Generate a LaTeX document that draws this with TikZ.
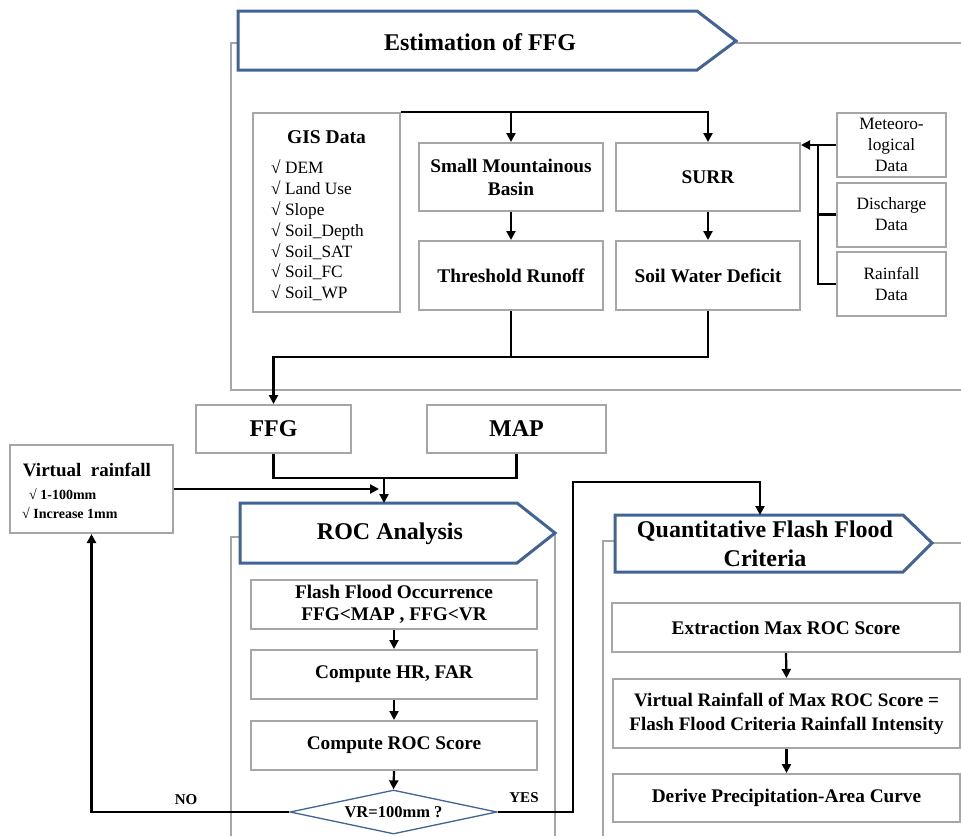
\documentclass[tikz,border=0pt]{standalone}
\usepackage{fontspec}
\setmainfont{Liberation Serif}
\usetikzlibrary{arrows.meta,shapes.geometric}
\definecolor{boxgray}{RGB}{166,166,166}
\definecolor{bannerblue}{RGB}{65,100,148}
\begin{document}
\begin{tikzpicture}[x=1pt,y=-1pt,
    box/.style={draw=boxgray,line width=2pt,fill=white,inner sep=0pt,align=center,
      font=\bfseries\fontsize{19.3}{23}\selectfont},
    databox/.style={draw=boxgray,line width=2pt,fill=white,inner sep=0pt,align=center,
      minimum width=109pt,minimum height=64pt,font=\fontsize{17.3}{21}\selectfont},
    frame/.style={draw=boxgray,line width=2pt},
    banner/.style={draw=bannerblue,line width=3pt,fill=white,line join=miter},
    bannertext/.style={inner sep=0pt,align=center,font=\bfseries\fontsize{24}{29}\selectfont},
    conn/.style={draw=black,line width=2.2pt},
    connarrow/.style={conn,-{Triangle[length=9pt,width=9pt]}},
    yesno/.style={inner sep=0pt,font=\bfseries\fontsize{15}{17}\selectfont}]
  \useasboundingbox[fill=white] (0,0) rectangle (961,836);

  \draw [frame] (238,43) -- (231,43) -- (231,390) -- (961,390);
  \draw [frame] (736,43) -- (961,43);
  \draw [frame] (240,537) -- (231,537) -- (231,836);
  \draw [frame] (555,533) -- (555,836);
  \draw [frame] (615,541) -- (603,541) -- (603,836);
  \draw [frame] (932,543) -- (961,543);

  \draw [banner] (238,11) -- (697,11) -- (736,41) -- (697,70) -- (238,70) -- cycle;
  \node [bannertext] (est) at (480,42) {Estimation of FFG};
  \draw [banner] (240,503) -- (517,503) -- (555,533) -- (517,563) -- (240,563) -- cycle;
  \node [bannertext] (roc) at (390,534) {ROC Analysis};
  \draw [banner] (615,515) -- (903,515) -- (932,543) -- (903,572) -- (615,572) -- cycle;
  \node [bannertext] (qffc) at (765,544) {Quantitative Flash Flood\\Criteria};

  \node [box,minimum width=147pt,minimum height=199pt] (gis) at (326.5,212.5) {};
  \node [inner sep=0pt,font=\bfseries\fontsize{19.5}{22}\selectfont] (gistitle) at (326.5,137) {GIS Data};
  \node [anchor=north west,inner sep=0pt,align=left,font=\fontsize{17.3}{20.8}\selectfont] (gislist) at (271,160)
    {√ DEM\\√ Land Use\\√ Slope\\√ Soil\_Depth\\√ Soil\_SAT\\√ Soil\_FC\\√ Soil\_WP};
  \node [box,minimum width=184pt,minimum height=68pt] (smb) at (511,177) {Small Mountainous\\Basin};
  \node [box,minimum width=184pt,minimum height=69pt] (thr) at (511,275.5) {Threshold Runoff};
  \node [box,minimum width=184pt,minimum height=68pt] (surr) at (708,177) {SURR};
  \node [box,minimum width=184pt,minimum height=69pt] (swd) at (708,275.5) {Soil Water Deficit};
  \node [databox] (meteo) at (891.5,145) {Meteoro-\\logical\\Data};
  \node [databox] (disc) at (891.5,214.5) {Discharge\\Data};
  \node [databox] (rain) at (891.5,284) {Rainfall\\Data};

  \node [box,minimum width=155pt,minimum height=48pt,font=\bfseries\fontsize{24}{28}\selectfont] (ffg) at (273.5,429) {FFG};
  \node [box,minimum width=179pt,minimum height=48pt,font=\bfseries\fontsize{24}{28}\selectfont] (map) at (516.5,429) {MAP};
  \node [box,minimum width=163pt,minimum height=88pt] (vr) at (91.5,489) {};
  \node [inner sep=0pt,font=\bfseries\fontsize{19}{22}\selectfont] (vrtitle) at (87,470) {Virtual\ \ rainfall};
  \node [anchor=north west,inner sep=0pt,align=left,font=\bfseries\fontsize{14}{19}\selectfont] (vrlist) at (22,488)
    {\hspace*{7pt}√ 1-100mm\\√ Increase 1mm};

  \node [box,minimum width=286pt,minimum height=49pt,font=\bfseries\fontsize{19.3}{22}\selectfont] (ffo) at (394,604.5)
    {Flash Flood Occurrence\\FFG<MAP , FFG<VR};
  \node [box,minimum width=286pt,minimum height=49pt] (hr) at (394,674.5) {Compute HR, FAR};
  \node [box,minimum width=286pt,minimum height=49pt] (rocs) at (394,745.5) {Compute ROC Score};
  \node [diamond,draw=bannerblue,line width=1.3pt,fill=white,aspect=4.7,minimum width=207pt,minimum height=44pt,
    inner sep=0pt,font=\bfseries\fontsize{16.5}{19}\selectfont] (dec) at (393.5,812) {VR=100mm ?};
  \node [yesno] (nolab) at (186,800) {NO};
  \node [yesno] (yeslab) at (524,798) {YES};

  \node [box,minimum width=348pt,minimum height=49pt] (ext) at (786,627.5) {Extraction Max ROC Score};
  \node [box,minimum width=347pt,minimum height=69pt,font=\bfseries\fontsize{19.1}{24}\selectfont] (vrm) at (786.5,713.5)
    {Virtual Rainfall of Max ROC Score =\\Flash Flood Criteria Rainfall Intensity};
  \node [box,minimum width=347pt,minimum height=48pt] (der) at (786.5,798) {Derive Precipitation-Area Curve};

  \coordinate (bus) at (818,145);
  \coordinate (merge1) at (511,357);
  \coordinate (merge2) at (384,478);
  \coordinate (rocin) at (384,503);
  \coordinate (vrend) at (379,489);
  \coordinate (yesbend) at (573,482);
  \coordinate (qin) at (760,515);

  \draw [connarrow] (gis.north east) -| (surr.north);
  \draw [connarrow] (smb.north |- gis.north) -- (smb.north);
  \draw [connarrow] (smb.south) -- (thr.north);
  \draw [connarrow] (surr.south) -- (swd.north);
  \draw [connarrow] (meteo.west) -- (surr.east |- meteo.west);
  \draw [conn] (bus) |- (rain.west);
  \draw [conn] (bus |- disc.west) -- (disc.west);
  \draw [conn] (thr.south) -- (merge1);
  \draw [connarrow] (swd.south) |- (merge1) -| (ffg.north);
  \draw [conn] (ffg.south) |- (merge2) -| (map.south);
  \draw [connarrow] (merge2) -- (rocin);
  \draw [connarrow] (vr.east) -- (vrend);
  \draw [connarrow] (ffo.south) -- (hr.north);
  \draw [connarrow] (hr.south) -- (rocs.north);
  \draw [connarrow] (rocs.south) -- (dec.north);
  \draw [connarrow] (dec.west) -| (vr.south);
  \draw [connarrow] (dec.east) -| (yesbend) -| (qin);
  \draw [connarrow] (ext.south) -- (vrm.north);
  \draw [connarrow] (vrm.south) -- (der.north);
\end{tikzpicture}
\end{document}
